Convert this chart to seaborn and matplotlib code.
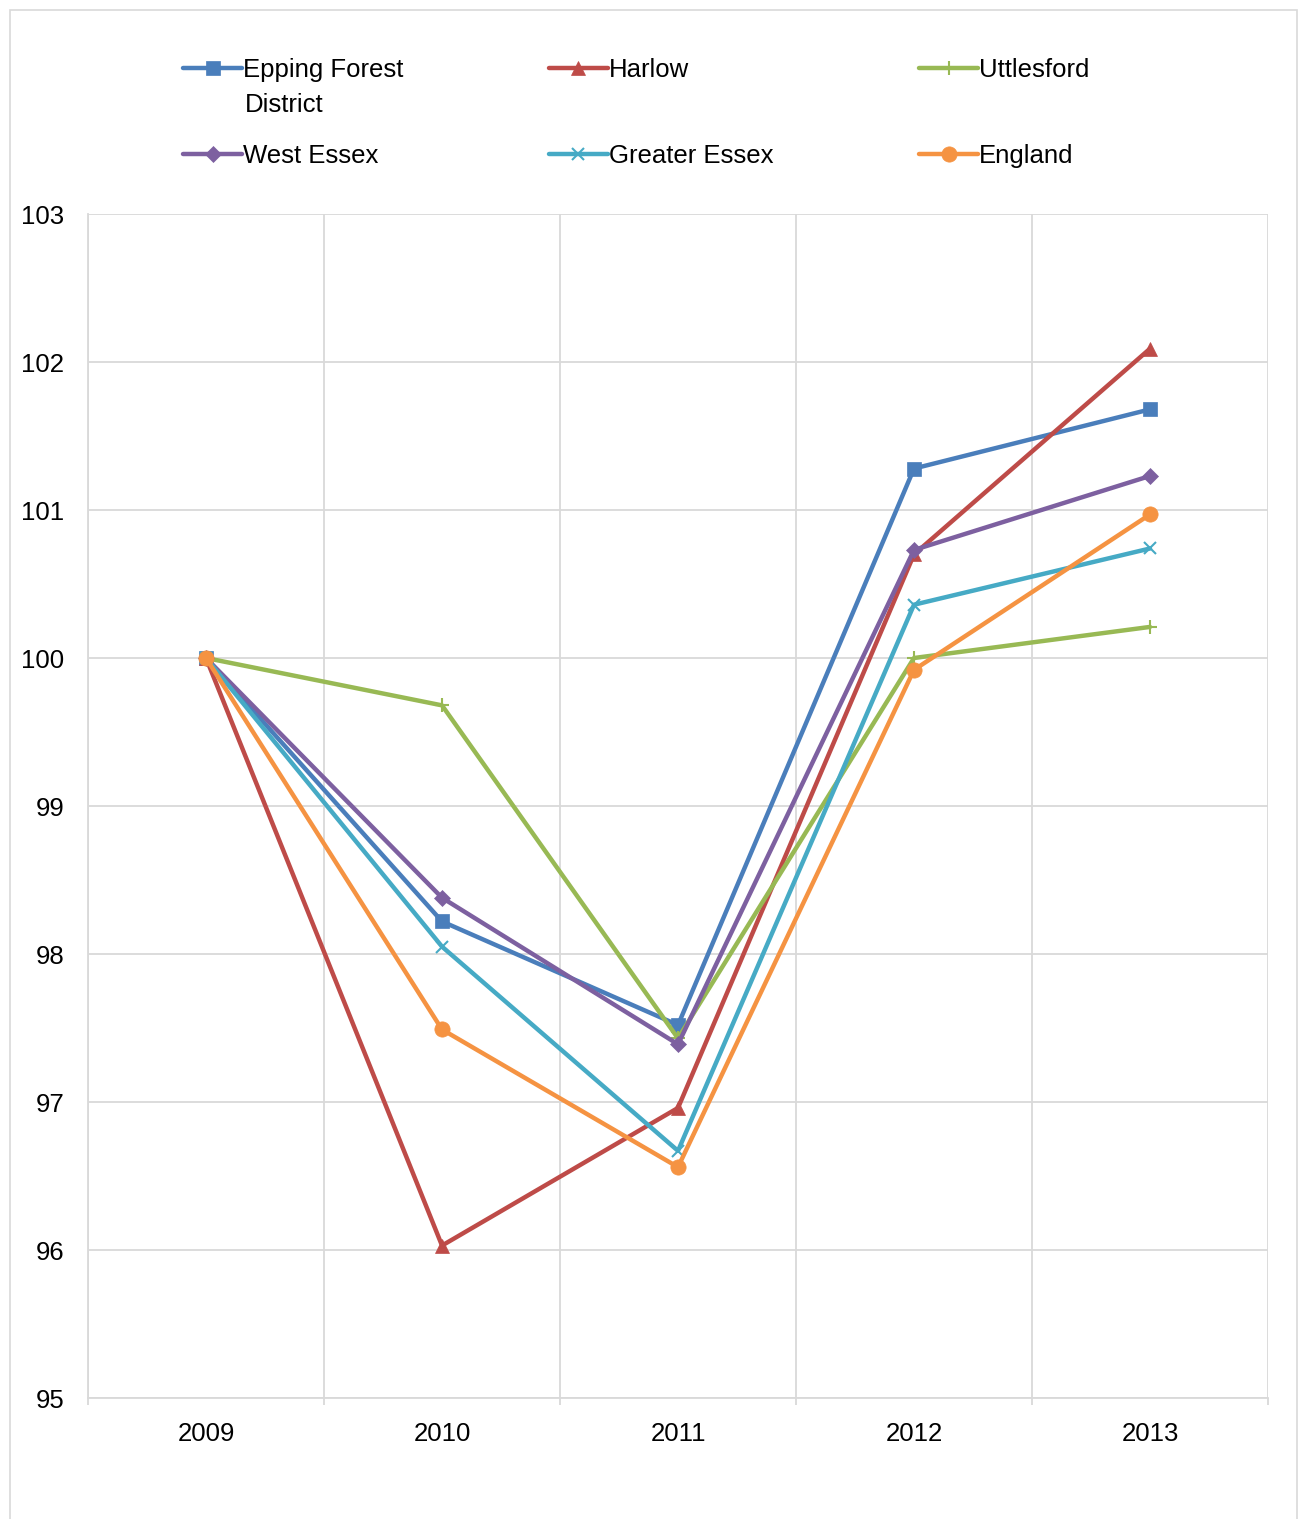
import matplotlib
matplotlib.use("Agg")
import matplotlib.pyplot as plt
import seaborn as sns
import pandas as pd
from matplotlib.patches import Rectangle
from matplotlib.ticker import FixedLocator

sns.set_theme(style="white")
plt.rcParams['font.family'] = ['Liberation Sans', 'DejaVu Sans']

years = ["2009", "2010", "2011", "2012", "2013"]
series_names = ["Epping Forest", "Harlow", "Uttlesford", "West Essex", "Greater Essex", "England"]
epping = [100.0, 98.22, 97.52, 101.28, 101.68]
harlow = [100.0, 96.03, 96.96, 100.70, 102.09]
uttlesford = [100.0, 99.68, 97.43, 100.00, 100.21]
west_essex = [100.0, 98.38, 97.39, 100.73, 101.23]
greater_essex = [100.0, 98.05, 96.67, 100.36, 100.74]
england = [100.0, 97.49, 96.56, 99.92, 100.97]

values = [epping, harlow, uttlesford, west_essex, greater_essex, england]
colors = ["#4A7EBB", "#BE4B48", "#98B954", "#7D60A0", "#46AAC5", "#F59342"]
markers = ["s", "^", "+", "D", "x", "o"]
msizes = [10, 10, 10, 8, 9, 11]

rows = []
for name, vals in zip(series_names, values):
    for i, v in enumerate(vals):
        rows.append({"series": name, "pos": i, "value": v})
df = pd.DataFrame(rows)

FS = 18.5
GRID = "#D9D9D9"

fig = plt.figure(figsize=(12.98, 15.19), dpi=100)
ax = fig.add_axes([88/1298, 1 - 1398/1519, (1268-88)/1298, (1398-214)/1519])

for name, c, m, ms in zip(series_names, colors, markers, msizes):
    sub = df[df["series"] == name]
    sns.lineplot(data=sub, x="pos", y="value", ax=ax, color=c, linewidth=3.2,
                 marker=m, markersize=ms, markeredgecolor=c, markerfacecolor=c,
                 markeredgewidth=1.5 if m in ("+", "x") else 0.5,
                 label=name, legend=False)

ax.set_xlim(-0.5, 4.5)
ax.set_ylim(95, 103)
ax.set_xticks(range(5))
ax.set_xticklabels(years)
ax.xaxis.set_minor_locator(FixedLocator([-0.5, 0.5, 1.5, 2.5, 3.5, 4.5]))
ax.set_yticks(range(95, 104))
ax.set_xlabel("")
ax.set_ylabel("")
ax.tick_params(axis="x", which="major", length=0, labelsize=FS, pad=17.5, labelcolor="black")
ax.tick_params(axis="x", which="minor", length=5, width=1.3, color=GRID, bottom=True)
ax.tick_params(axis="y", which="major", length=0, labelsize=FS, pad=17, left=False, labelcolor="black")

ax.grid(False)
ax.grid(True, axis="y", which="major", color=GRID, linewidth=1.3)
ax.grid(True, axis="x", which="minor", color=GRID, linewidth=1.3)
ax.set_axisbelow(True)
for s in ["top", "right"]:
    ax.spines[s].set_visible(False)
for s in ["left", "bottom"]:
    ax.spines[s].set_color(GRID)
    ax.spines[s].set_linewidth(1.3)

handles, labels = ax.get_legend_handles_labels()
# legend fills column-wise; reorder so it reads row-wise like the reference
order = [0, 3, 1, 4, 2, 5]
leg = fig.legend([handles[i] for i in order], [labels[i] for i in order], ncol=3,
                 loc="upper left", bbox_to_anchor=(183/1298, 1 - 58/1519), frameon=False,
                 fontsize=FS, handlelength=2.3, handletextpad=0.02,
                 columnspacing=5.68, labelspacing=2.42, borderaxespad=0, borderpad=0)
for t in leg.get_texts():
    t.set_color("black")
fig.text(245/1298, 1 - 105/1519, "District", fontsize=FS, va="center", ha="left", color="black")

fig.patches.append(Rectangle((10/1298, -0.01), (1297-10)/1298, 1 - 10/1519 + 0.01,
                             transform=fig.transFigure, fill=False,
                             edgecolor=GRID, linewidth=1.2))

fig.savefig("out.png", dpi=100, facecolor="white")
